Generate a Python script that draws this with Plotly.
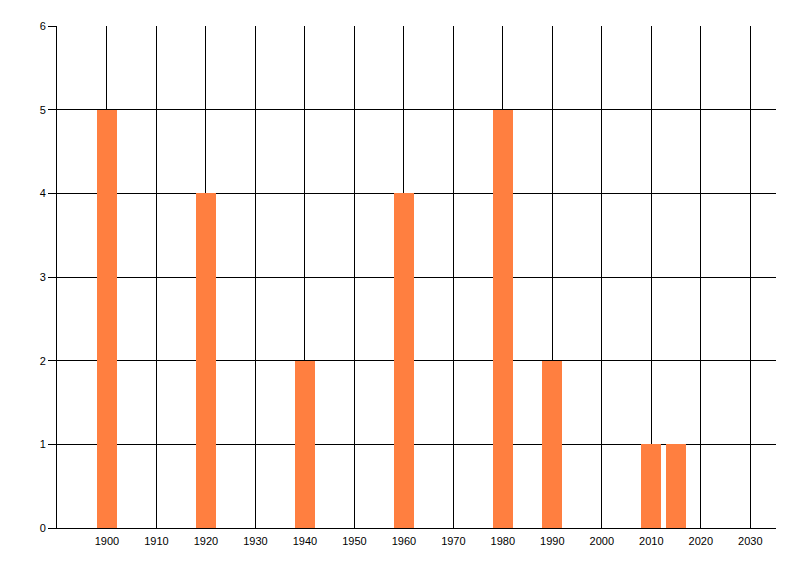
import plotly.graph_objects as go

# data
years = [1900, 1920, 1940, 1960, 1980, 1990, 2010, 2015]
counts = [5, 4, 2, 4, 5, 2, 1, 1]
x_ticks = [1900, 1910, 1920, 1930, 1940, 1950, 1960, 1970,
           1980, 1990, 2000, 2010, 2020, 2030]
y_ticks = [0, 1, 2, 3, 4, 5, 6]

bar_color = "#FF7F40"

fig = go.Figure()
fig.add_trace(go.Bar(x=years, y=counts, width=4,
                     marker=dict(color=bar_color, line=dict(width=0))))

# page body adds 8px offset, margins compensate for it
fig.update_layout(
    width=800, height=576,
    margin=dict(l=49, r=32, t=18, b=56),
    paper_bgcolor="white",
    plot_bgcolor="white",
    font=dict(family="Liberation Sans, Arial, sans-serif", size=11, color="black"),
    showlegend=False,
    bargap=0,
)

fig.update_xaxes(
    range=[1889.9, 2035.2],
    tickvals=x_ticks,
    showgrid=True, gridcolor="black", gridwidth=1,
    showline=True, linecolor="black", linewidth=1,
    ticks="", zeroline=False,
    ticklabelstandoff=3,
)
fig.update_yaxes(
    range=[0, 6],
    tickvals=y_ticks,
    showgrid=True, gridcolor="black", gridwidth=1,
    showline=True, linecolor="black", linewidth=1,
    ticks="outside", ticklen=8, tickcolor="black", tickwidth=1,
    zeroline=False,
)

fig.write_html("out.html")
